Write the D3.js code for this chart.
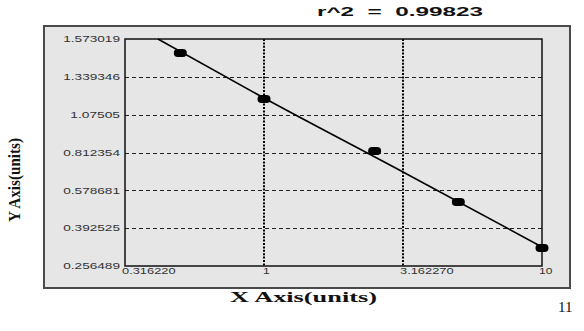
<!DOCTYPE html>
<html><head><meta charset="utf-8">
<script src="https://cdn.jsdelivr.net/npm/d3@7"></script>
<style>html,body{margin:0;padding:0;background:#fff;}svg{display:block;}</style>
</head><body>
<script>
// ---- data ----
const xTickValues = [0.31622, 1, 3.16227, 10];
const xTickLabels = ["0.316220", "1", "3.162270", "10"];
const yTickValues = [0.256489, 0.392525, 0.578681, 0.812354, 1.07505, 1.339346, 1.573019];
const yTickLabels = ["0.256489", "0.392525", "0.578681", "0.812354", "1.07505", "1.339346", "1.573019"];
const pointX = [0.5, 1, 2.5, 5, 10];
const pointY = [1.4866, 1.1842, 0.8229, 0.5211, 0.3214];
const fitX = [0.4154, 1, 3.16227, 10];
const fitY = [1.573019, 1.1913, 0.6920, 0.3249];
const titleText = "r^2  =  0.99823";
const xTitle = "X Axis(units)";
const yTitle = "Y Axis(units)";
const pageNumber = "11";

const W = 584, H = 331;
const plot = {l: 125, r: 542, t: 39, b: 266};
const svg = d3.select("body").append("svg").attr("width", W).attr("height", H);

const x = d3.scaleLog().domain([xTickValues[0], xTickValues[xTickValues.length-1]]).range([plot.l, plot.r]);
const yRange = yTickValues.map((d, i) => plot.b - i * (plot.b - plot.t) / (yTickValues.length - 1));
const y = d3.scaleLinear().domain(yTickValues).range(yRange);

// outer panel
svg.append("rect").attr("x", 44).attr("y", 26).attr("width", 526).attr("height", 262)
  .attr("fill", "#e6e6e6").attr("stroke", "#4a4a4a").attr("stroke-width", 2);
// plot area
svg.append("rect").attr("x", plot.l).attr("y", plot.t).attr("width", plot.r - plot.l).attr("height", plot.b - plot.t)
  .attr("fill", "#e6e6e6");

// horizontal dashed grid
svg.append("g").selectAll("line").data(yTickValues.slice(1, -1)).join("line")
  .attr("x1", plot.l).attr("x2", plot.r).attr("y1", d => Math.round(y(d)) + 0.5).attr("y2", d => Math.round(y(d)) + 0.5)
  .attr("stroke", "#222").attr("stroke-width", 1).attr("stroke-dasharray", "4,3");
// vertical dotted grid
svg.append("g").selectAll("line").data(xTickValues.slice(1, -1)).join("line")
  .attr("x1", d => x(d)).attr("x2", d => x(d)).attr("y1", plot.t).attr("y2", plot.b)
  .attr("stroke", "#000").attr("stroke-width", 2).attr("stroke-dasharray", "2,1.4");

// axes with d3 (labels only, no ticks)
const yAxis = svg.append("g").attr("transform", `translate(${plot.l - 5},0)`)
  .call(d3.axisLeft(y).tickValues(yTickValues).tickFormat((d, i) => yTickLabels[i]).tickSize(0).tickPadding(0));
yAxis.select(".domain").remove();
yAxis.selectAll("text").attr("font-family", "Liberation Sans, Arial, sans-serif").attr("font-size", 8.5)
  .attr("fill", "#333").attr("textLength", function(d, i){ return yTickLabels[i].length * 7.1; })
  .attr("lengthAdjust", "spacingAndGlyphs");

const xAxis = svg.append("g").attr("transform", `translate(0,${plot.b})`)
  .call(d3.axisBottom(x).tickValues(xTickValues).tickFormat((d, i) => xTickLabels[i]).tickSize(0).tickPadding(2));
xAxis.select(".domain").remove();
xAxis.selectAll("text").attr("font-family", "Liberation Sans, Arial, sans-serif").attr("font-size", 8.5)
  .attr("fill", "#333").attr("text-anchor", "start").attr("dx", (d, i) => i === 1 ? -1.5 : -3.5)
  .attr("textLength", (d, i) => xTickLabels[i].length * 6.7).attr("lengthAdjust", "spacingAndGlyphs");

// plot border
svg.append("rect").attr("x", plot.l).attr("y", plot.t).attr("width", plot.r - plot.l).attr("height", plot.b - plot.t)
  .attr("fill", "none").attr("stroke", "#111").attr("stroke-width", 1.5);

// fit line
const fitData = fitX.map((d, i) => [d, fitY[i]]);
svg.append("path").datum(fitData)
  .attr("d", d3.line().x(d => x(d[0])).y(d => y(d[1])).curve(d3.curveMonotoneX))
  .attr("fill", "none").attr("stroke", "#000").attr("stroke-width", 1.6);

// points
svg.append("g").selectAll("rect").data(pointX.map((d, i) => [d, pointY[i]])).join("rect")
  .attr("x", d => x(d[0]) - 6.5).attr("y", d => y(d[1]) - 4).attr("width", 13).attr("height", 8)
  .attr("rx", 4).attr("ry", 4).attr("fill", "#000");

// title
svg.append("text").attr("x", 317).attr("y", 16).text(titleText).style("white-space", "pre")
  .attr("font-family", "Liberation Sans, Arial, sans-serif").attr("font-weight", "bold").attr("font-size", 13)
  .attr("fill", "#111").attr("textLength", 166).attr("lengthAdjust", "spacingAndGlyphs");

// x axis title
svg.append("text").attr("x", 230).attr("y", 302).text(xTitle)
  .attr("font-family", "Liberation Serif, Times New Roman, serif").attr("font-weight", "bold").attr("font-size", 15)
  .attr("fill", "#111").attr("textLength", 147).attr("lengthAdjust", "spacingAndGlyphs");

// y axis title
svg.append("text").attr("transform", "translate(20,180) rotate(-90)").attr("text-anchor", "middle").text(yTitle)
  .attr("font-family", "Liberation Serif, Times New Roman, serif").attr("font-weight", "bold").attr("font-size", 17)
  .attr("fill", "#111").attr("textLength", 84).attr("lengthAdjust", "spacingAndGlyphs");

// page number
svg.append("text").attr("x", 558).attr("y", 312).text(pageNumber)
  .attr("font-family", "Liberation Serif, Times New Roman, serif").attr("font-size", 15).attr("fill", "#111");
</script>
</body></html>
